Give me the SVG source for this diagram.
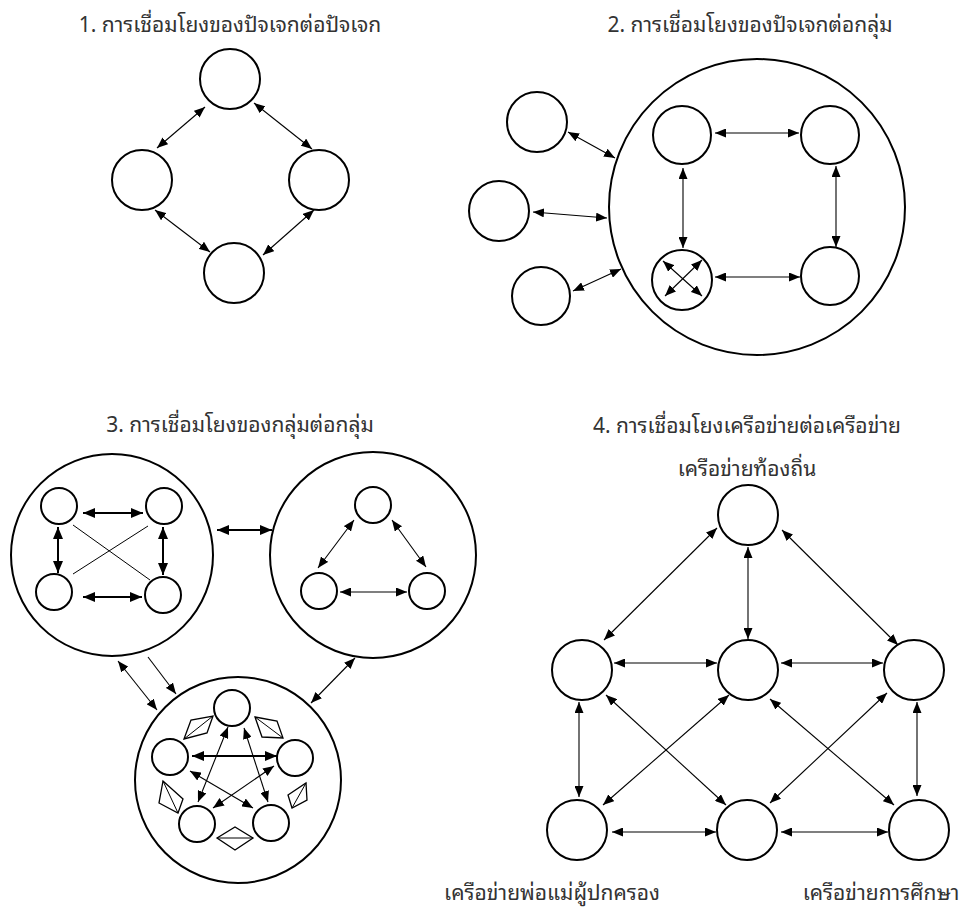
<svg xmlns="http://www.w3.org/2000/svg" width="977" height="913" viewBox="0 0 977 913">
<defs>
<marker id="a" viewBox="0 0 11 9" markerWidth="11" markerHeight="9" refX="11" refY="4.5" orient="auto-start-reverse" markerUnits="userSpaceOnUse"><path d="M0,0 L11,4.5 L0,9 z" fill="#000"/></marker>
<marker id="b" viewBox="0 0 12 10" markerWidth="12" markerHeight="10" refX="12" refY="5" orient="auto-start-reverse" markerUnits="userSpaceOnUse"><path d="M0,0 L12,5 L0,10 z" fill="#000"/></marker>
</defs>
<style>
.n{fill:#fff;stroke:#000;stroke-width:2}
.c{fill:none;stroke:#000;stroke-width:1.1;marker-start:url(#a);marker-end:url(#a)}
.t{fill:none;stroke:#000;stroke-width:2;marker-start:url(#b);marker-end:url(#b)}
.e{fill:none;stroke:#000;stroke-width:1.1;marker-end:url(#a)}
.l{fill:none;stroke:#000;stroke-width:1}
.d{fill:#fff;stroke:#000;stroke-width:1.3}
.x{font-family:"Noto Sans Thai Looped","Loma","Garuda","Tahoma","Noto Sans Thai","Liberation Sans",sans-serif;font-size:21px;fill:#333;text-anchor:middle}
</style>
<rect width="977" height="913" fill="#fff"/>
<g id="titles">
<text class="x" x="230" y="32">1. การเชื่อมโยงของปัจเจกต่อปัจเจก</text>
<text class="x" x="750" y="32">2. การเชื่อมโยงของปัจเจกต่อกลุ่ม</text>
<text class="x" x="240" y="432">3. การเชื่อมโยงของกลุ่มต่อกลุ่ม</text>
<text class="x" x="747" y="433">4. การเชื่อมโยงเครือข่ายต่อเครือข่าย</text>
</g>
<g id="p1">
<circle id="p1-top" class="n" cx="230" cy="79" r="30"/>
<circle id="p1-left" class="n" cx="142" cy="180" r="30"/>
<circle id="p1-right" class="n" cx="319" cy="180" r="30"/>
<circle id="p1-bottom" class="n" cx="234" cy="273" r="30"/>
</g>
<g id="p2">
<circle id="p2-group" class="n" cx="757" cy="207" r="148"/>
<circle id="p2-tl" class="n" cx="682" cy="135" r="29"/>
<circle id="p2-tr" class="n" cx="830" cy="135" r="29"/>
<circle id="p2-bl" class="n" cx="682" cy="280" r="30"/>
<circle id="p2-br" class="n" cx="830" cy="276" r="29"/>
<circle id="p2-o1" class="n" cx="537" cy="122" r="30"/>
<circle id="p2-o2" class="n" cx="499" cy="211" r="30"/>
<circle id="p2-o3" class="n" cx="541" cy="296" r="29"/>
</g>
<g id="p3">
<circle id="p3-gl" class="n" cx="112" cy="555" r="101"/>
<circle id="p3-gr" class="n" cx="373" cy="555" r="103"/>
<circle id="p3-gb" class="n" cx="238" cy="780" r="103"/>
<circle id="p3-l1" class="n" cx="59" cy="506" r="18"/>
<circle id="p3-l2" class="n" cx="164" cy="506" r="18"/>
<circle id="p3-l3" class="n" cx="54" cy="592" r="18"/>
<circle id="p3-l4" class="n" cx="163" cy="595" r="18"/>
<circle id="p3-r1" class="n" cx="373" cy="505" r="18"/>
<circle id="p3-r2" class="n" cx="319" cy="591" r="18"/>
<circle id="p3-r3" class="n" cx="427" cy="591" r="18"/>
<circle id="p3-b1" class="n" cx="232" cy="708" r="18"/>
<circle id="p3-b2" class="n" cx="170" cy="757" r="18"/>
<circle id="p3-b3" class="n" cx="295" cy="758" r="18"/>
<circle id="p3-b4" class="n" cx="197" cy="824" r="18"/>
<circle id="p3-b5" class="n" cx="271" cy="823" r="18"/>
</g>
<g id="p4">
<circle id="p4-top" class="n" cx="748" cy="515" r="30"/>
<circle id="p4-ml" class="n" cx="582" cy="670" r="30"/>
<circle id="p4-mc" class="n" cx="748" cy="670" r="30"/>
<circle id="p4-mr" class="n" cx="914" cy="670" r="30"/>
<circle id="p4-bl" class="n" cx="577" cy="830" r="30"/>
<circle id="p4-bc" class="n" cx="747" cy="830" r="30"/>
<circle id="p4-br" class="n" cx="919" cy="830" r="30"/>
<text class="x" x="747" y="476">เครือข่ายท้องถิ่น</text>
<text class="x" x="552" y="900">เครือข่ายพ่อแม่ผู้ปกครอง</text>
<text class="x" x="881" y="900">เครือข่ายการศึกษา</text>
</g>
<g id="connectors">
<line class="c" x1="157" y1="148" x2="205" y2="107"/>
<line class="c" x1="254" y1="103" x2="312" y2="149"/>
<line class="c" x1="155" y1="210" x2="210" y2="252"/>
<line class="c" x1="263" y1="255" x2="314" y2="210"/>

<line class="c" x1="568" y1="132" x2="615" y2="158"/>
<line class="c" x1="533" y1="212" x2="607" y2="218"/>
<line class="c" x1="573" y1="291" x2="621" y2="269"/>
<line class="c" x1="715" y1="133" x2="799" y2="133"/>
<line class="c" x1="683" y1="168" x2="683" y2="248"/>
<line class="c" x1="836" y1="166" x2="836" y2="247"/>
<line class="c" x1="715" y1="277" x2="800" y2="277"/>
<line class="c" x1="663" y1="261" x2="702" y2="296"/>
<line class="c" x1="702" y1="260" x2="665" y2="296"/>

<line class="t" x1="83" y1="513" x2="143" y2="513"/>
<line class="t" x1="83" y1="597" x2="142" y2="597"/>
<line class="t" x1="58" y1="527" x2="58" y2="573"/>
<line class="t" x1="163" y1="527" x2="163" y2="575"/>
<line class="l" x1="73" y1="525" x2="150" y2="580"/>
<line class="l" x1="148" y1="526" x2="73" y2="574"/>
<line class="t" x1="217" y1="530" x2="272" y2="530"/>
<line class="c" x1="354" y1="520" x2="318" y2="568"/>
<line class="c" x1="392" y1="520" x2="426" y2="567"/>
<line class="c" x1="340" y1="592" x2="407" y2="592"/>
<line class="c" x1="118" y1="661" x2="157" y2="710"/>
<line class="e" x1="148" y1="657" x2="176" y2="694"/>
<line class="c" x1="355" y1="658" x2="311" y2="703"/>
<line class="t" x1="192" y1="756" x2="277" y2="756"/>
<line class="c" x1="228" y1="727" x2="198" y2="802"/>
<line class="c" x1="244" y1="728" x2="268" y2="802"/>
<line class="c" x1="190" y1="771" x2="253" y2="808"/>
<line class="c" x1="274" y1="766" x2="213" y2="808"/>
<polygon class="d" points="184,739 191,720 213,716 207,733"/>
<line class="l" x1="184" y1="739" x2="213" y2="716"/>
<polygon class="d" points="255,717 277,721 283,738 262,737"/>
<line class="l" x1="255" y1="717" x2="283" y2="738"/>
<polygon class="d" points="163,781 159,803 178,813 183,799"/>
<line class="l" x1="163" y1="781" x2="178" y2="813"/>
<polygon class="d" points="288,795 306,783 307,800 292,808"/>
<line class="l" x1="306" y1="783" x2="292" y2="808"/>
<polygon class="d" points="217,838 235,827 253,838 235,850"/>
<line class="l" x1="217" y1="838" x2="253" y2="838"/>

<line class="c" x1="717" y1="528" x2="604" y2="640"/>
<line class="c" x1="748" y1="547" x2="748" y2="639"/>
<line class="c" x1="782" y1="530" x2="898" y2="645"/>
<line class="c" x1="614" y1="663" x2="717" y2="663"/>
<line class="c" x1="781" y1="663" x2="883" y2="663"/>
<line class="c" x1="579" y1="702" x2="579" y2="797"/>
<line class="c" x1="917" y1="702" x2="917" y2="796"/>
<line class="c" x1="606" y1="695" x2="726" y2="805"/>
<line class="c" x1="729" y1="695" x2="603" y2="805"/>
<line class="c" x1="770" y1="699" x2="894" y2="805"/>
<line class="c" x1="887" y1="693" x2="770" y2="803"/>
<line class="c" x1="612" y1="832" x2="716" y2="832"/>
<line class="c" x1="781" y1="832" x2="888" y2="832"/>
</g>
</svg>
